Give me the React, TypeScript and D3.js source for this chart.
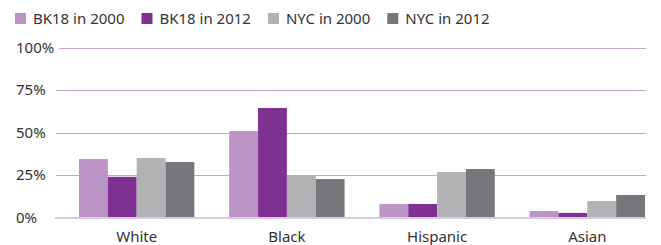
import { useEffect, useRef } from 'react';
import * as d3 from 'd3';

const categories = ['White', 'Black', 'Hispanic', 'Asian'];
const seriesNames = ['BK18 in 2000', 'BK18 in 2012', 'NYC in 2000', 'NYC in 2012'];
const bk2000 = [34.5, 51, 8, 3.8];
const bk2012 = [24, 64.6, 8, 2.7];
const nyc2000 = [35.1, 24.9, 26.8, 9.7];
const nyc2012 = [32.7, 22.7, 28.6, 13.3];
const yTicks = [0, 25, 50, 75, 100];
const colors = ['#ba95c6', '#7f3192', '#b2b2b4', '#77777b'];

const W = 661;
const H = 245;
const FONT = '"Noto Sans", sans-serif';

export default function App() {
  const ref = useRef<SVGSVGElement | null>(null);

  useEffect(() => {
    const el = ref.current;
    if (!el) return;
    const svg = d3.select(el);
    svg.selectAll('*').remove();

    const series = [bk2000, bk2012, nyc2000, nyc2012];
    const y = d3.scaleLinear().domain([0, 100]).range([217.5, 48]);
    const x0 = d3.scaleBand<string>().domain(categories).range([79, 645]).paddingInner(0.232).paddingOuter(0);
    const x1 = d3.scaleBand<number>().domain(d3.range(series.length)).range([0, x0.bandwidth()]);

    // legend
    let lx = 15;
    const legend = svg.append('g');
    seriesNames.forEach((name, i) => {
      legend.append('rect').attr('x', lx).attr('y', 13).attr('width', 11).attr('height', 11).attr('fill', colors[i]);
      const t = legend
        .append('text')
        .attr('x', lx + 18)
        .attr('y', 24)
        .attr('font-family', FONT)
        .attr('font-size', 15)
        .attr('fill', '#333')
        .text(name);
      lx += 18 + (t.node() as SVGTextElement).getComputedTextLength() + 17;
    });

    // gridlines + y labels
    const grid = svg.append('g');
    yTicks.forEach((v) => {
      const t = grid
        .append('text')
        .attr('x', 16)
        .attr('y', y(v) + 5)
        .attr('font-family', FONT)
        .attr('font-size', 15)
        .attr('fill', '#333')
        .text(`${v}%`);
      const end = 16 + (t.node() as SVGTextElement).getComputedTextLength();
      const start = Math.max(56, end + 5);
      if (v === 0) return;
      grid
        .append('line')
        .attr('x1', start)
        .attr('x2', 646)
        .attr('y1', Math.round(y(v)) + 0.5)
        .attr('y2', Math.round(y(v)) + 0.5)
        .attr('stroke', '#c6a3d3')
        .attr('stroke-width', 1);
    });

    // bars
    const groups = svg
      .append('g')
      .selectAll('g')
      .data(categories)
      .join('g')
      .attr('transform', (c) => `translate(${x0(c)},0)`);

    groups
      .selectAll('rect')
      .data((c, ci) => series.map((s, si) => ({ si, v: s[ci] })))
      .join('rect')
      .attr('x', (d) => x1(d.si)!)
      .attr('width', x1.bandwidth())
      .attr('y', (d) => y(d.v))
      .attr('height', (d) => y(0) - y(d.v))
      .attr('fill', (d) => colors[d.si]);

    // baseline
    svg
      .append('line')
      .attr('x1', 55)
      .attr('x2', 646)
      .attr('y1', y(0) + 0.5)
      .attr('y2', y(0) + 0.5)
      .attr('stroke', '#dcc8e4')
      .attr('stroke-width', 2);

    // category labels
    svg
      .append('g')
      .selectAll('text')
      .data(categories)
      .join('text')
      .attr('x', (c) => x0(c)! + x0.bandwidth() / 2)
      .attr('y', 242)
      .attr('text-anchor', 'middle')
      .attr('font-family', FONT)
      .attr('font-size', 15)
      .attr('fill', '#333')
      .text((c) => c);
  }, []);

  return (
    <svg
      ref={ref}
      width={W}
      height={H}
      style={{ position: 'absolute', left: 0, top: 0, background: '#fff' }}
    />
  );
}
